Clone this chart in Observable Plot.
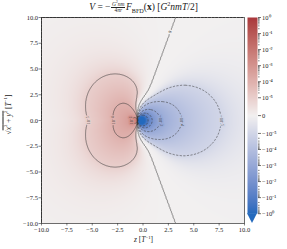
<!DOCTYPE html>
<html><head><meta charset="utf-8">
<script src="https://cdn.jsdelivr.net/npm/d3@7"></script>
<script src="https://cdn.jsdelivr.net/npm/@observablehq/plot@0.6"></script>
<style>
body{margin:0;background:#fff;}
#wrap{position:relative;width:287px;height:249px;overflow:hidden;font-family:"Liberation Serif",serif;color:#222;}
#wrap > div{position:absolute;}
#title{left:0;width:287px;top:2px;text-align:center;font-size:9.5px;white-space:nowrap;line-height:10px;}
.frac{display:inline-block;vertical-align:middle;text-align:center;font-size:5.5px;line-height:5px;margin:0 1px;}
.frac .n{display:block;border-bottom:0.5px solid #222;padding:0 0.5px;}
.frac .d{display:block;}
sup,sub{font-size:65%;line-height:0;}
#xlab{left:0;width:287px;top:235px;text-align:center;font-size:7.5px;}
#ylab{left:-42px;top:110px;width:100px;text-align:center;font-size:7.5px;transform:rotate(-90deg);transform-origin:50% 50%;}
.ol{text-decoration:overline;}
</style></head><body><div id="wrap"></div>
<script>
// ---------------- values ----------------
const xTicks = [-10, -7.5, -5, -2.5, 0, 2.5, 5, 7.5, 10];
const yTicks = [-10, -7.5, -5, -2.5, 0, 2.5, 5, 7.5, 10];
const contourNeg = [-1e-1, -1e-2, -1e-3, -1e-4, -1e-5];
const contourPos = [0, 1e-5, 1e-4, 1e-3];
const labelNeg = [-1e-3, -1e-4, -1e-5];
const labelNegText = ["−10⁻³", "−10⁻⁴", "−10⁻⁵"];
const labelPos = [1e-5, 1e-4, 1e-3];
const labelPosText = ["10⁻⁵", "10⁻⁴", "10⁻³"];
const cbTicks = [1, 1e-1, 1e-2, 1e-3, 1e-4, 1e-5, 0, -1e-5, -1e-4, -1e-3, -1e-2, -1e-1, -1];
const cbLabels = ["10⁰", "10⁻¹", "10⁻²", "10⁻³", "10⁻⁴", "10⁻⁵", "0", "−10⁻⁵", "−10⁻⁴", "−10⁻³", "−10⁻²", "−10⁻¹", "−10⁰"];
const linThresh = 1e-5;
// where contours cross the z axis (rho = 0)
const pinchZ = -0.55;
const blueAxisZ = [0.5, 0.9, 1.7, 3.8, 7.7];
const blueAxisLog = [-1, -2, -3, -4, -5];
const redAxisZ = [-1.1, -2.9, -5.4];
const redAxisLog = [-3, -4, -5];
// zero contour: far-field direction cosine and bend radius
const zeroCos = 0.35, zeroR0 = 2.2;
const redBlunt = 0.35, redBulge = 0.25, redR0 = 2.5;
const vlag = ["#2369bd", "#f2f0f0", "#a9373b"];

// ---------------- field model ----------------
function profile(D, L, u) {
  const lu = Math.log10(u);
  const ld = D.map(Math.log10);
  let i = 0;
  if (lu <= ld[0]) i = 0;
  else if (lu >= ld[ld.length - 1]) i = ld.length - 2;
  else { while (lu > ld[i + 1]) i++; }
  const s = (L[i + 1] - L[i]) / (ld[i + 1] - ld[i]);
  return Math.pow(10, L[i] + s * (lu - ld[i]));
}
const Db = blueAxisZ.map(z => z - pinchZ);
const Dr = redAxisZ.map(z => pinchZ - z);
function field(z, rho) {
  const dz = z - pinchZ, dr = Math.abs(rho);
  const r = Math.hypot(dz, dr);
  if (r < 1e-6) return -1;
  const c = dz / r;
  const c0 = zeroCos * (1 - Math.exp(-Math.pow(r / zeroR0, 3)));
  if (c > c0) {
    const p = (c - c0) / (1 - c0);
    return -Math.min(1, profile(Db, blueAxisLog, r / p));
  } else {
    const th = Math.acos(Math.max(-1, c)), th0 = Math.acos(c0);
    const t = (th - th0) / (Math.PI - th0);
    const w = 1 - Math.exp(-Math.pow(r / redR0, 2));
    const sn = Math.sin(Math.PI * t / 2);
    const q = (1 - w) * sn + w * Math.pow(sn, redBlunt) * (1 + redBulge * Math.sin(Math.PI * t));
    if (q <= 1e-9) return 0;
    return Math.min(1, profile(Dr, redAxisLog, r / q));
  }
}
const linW = 1 / (1 - 0.1);
function symT(v) {
  const a = Math.abs(v);
  const t = a <= linThresh ? a / linThresh * linW : linW + Math.log10(a / linThresh);
  return Math.sign(v) * t;
}
const T = symT(1);
const colorOpt = {type: "linear", domain: [-T, T], interpolate: d3.piecewise(d3.interpolateLab, vlag)};
const tf = (x, y) => symT(field(x, y));

function findZ(level, rho, a, b) {
  let fa = field(a, rho) - level;
  for (let k = 0; k < 60; k++) {
    const m = (a + b) / 2, fm = field(m, rho) - level;
    if ((fm > 0) === (fa > 0)) { a = m; fa = fm; } else b = m;
  }
  return (a + b) / 2;
}
const labels = [
  ...labelPos.map((v, i) => ({z: findZ(v, 0, -10, pinchZ - 1e-3), rho: 0, text: labelPosText[i], v: symT(v), rot: -90})),
  ...labelNeg.map((v, i) => ({z: findZ(v, 0, pinchZ + 1e-3, 10), rho: 0, text: labelNegText[i], v: symT(v), rot: 90})),
  {z: findZ(0, 8.6, pinchZ, 10), rho: 8.6, text: "0", v: 0, rot: -69}
];
const fmt = d => (d < 0 ? "−" : "") + Math.abs(d).toFixed(1);

const main = Plot.plot({
  width: 287, height: 249,
  marginLeft: 41, marginRight: 43, marginTop: 17, marginBottom: 26,
  style: {fontFamily: "Liberation Serif", fontSize: "6.5px", color: "#222", background: "transparent"},
  x: {domain: [-10, 10], label: null},
  y: {domain: [-10, 10], label: null},
  color: colorOpt,
  marks: [
    Plot.raster({fill: tf, x1: -10, x2: 10, y1: -10, y2: 10, pixelSize: 1}),
    Plot.contour({value: tf, x1: -10, x2: 10, y1: -10, y2: 10, pixelSize: 0.5, thresholds: contourNeg.map(symT), fill: "none", stroke: "#3a3a3a", strokeWidth: 0.6, strokeDasharray: "2.2,1.4", clip: true}),
    Plot.contour({value: tf, x1: -10, x2: 10, y1: -10, y2: 10, pixelSize: 0.5, thresholds: contourPos.map(symT), fill: "none", stroke: "#3a3a3a", strokeWidth: 0.6, clip: true}),
    Plot.text(labels, {x: "z", y: "rho", text: "text", rotate: "rot", fill: "#333", stroke: "v", strokeWidth: 2.5, fontSize: 4.5}),
    Plot.frame({stroke: "#333", strokeWidth: 0.7}),
    Plot.axisX({ticks: xTicks, tickFormat: fmt, tickSize: 2.5, tickPadding: 1, stroke: "#333", strokeWidth: 0.6, label: null}),
    Plot.axisY({ticks: yTicks, tickFormat: fmt, tickSize: 2.5, tickPadding: 1, stroke: "#333", strokeWidth: 0.6, label: null})
  ]
});

const ext = (9.8 / 196) * 2 * T;
const minor = [];
for (let k = -5; k <= -1; k++) for (let m = 2; m <= 9; m++) { minor.push(symT(m * 10 ** k)); minor.push(symT(-m * 10 ** k)); }
const cbPos = cbTicks.map(symT);
const cbMap = new Map(cbPos.map((p, i) => [p, cbLabels[i]]));
const cb = Plot.plot({
  width: 40, height: 249,
  marginLeft: 0, marginRight: 30, marginTop: 17, marginBottom: 26,
  style: {fontFamily: "Liberation Serif", fontSize: "6.5px", color: "#222", background: "transparent", overflow: "visible"},
  x: {domain: [0, 1], axis: null},
  y: {domain: [-T - ext, T], axis: null, label: null},
  color: colorOpt,
  marks: [
    Plot.raster({fill: (x, y) => y, x1: 0, x2: 1, y1: -T, y2: T, pixelSize: 1}),
    Plot.areaY([{x: 0, a: -T, b: -T}, {x: 0.5, a: -T - ext, b: -T}, {x: 1, a: -T, b: -T}], {x: "x", y1: "a", y2: "b", fill: -T}),
    Plot.axisY({anchor: "right", ticks: minor, tickSize: 1.6, text: null, stroke: "#111", strokeWidth: 0.5, label: null}),
    Plot.axisY({anchor: "right", ticks: cbPos, tickFormat: d => cbMap.get(d), tickSize: 3, tickPadding: 1.5, stroke: "#111", strokeWidth: 0.6, label: null})
  ]
});

const wrap = document.getElementById("wrap");
const d1 = document.createElement("div"); d1.style.left = "0px"; d1.style.top = "0px"; d1.appendChild(main); wrap.appendChild(d1);
const d2 = document.createElement("div"); d2.style.left = "247px"; d2.style.top = "0px"; d2.appendChild(cb); wrap.appendChild(d2);
wrap.insertAdjacentHTML("beforeend",
  `<div id="title"><i>V</i> = −<span class="frac"><span class="n"><i>G</i><sup>2</sup><i>nm</i></span><span class="d">4<i>πr</i></span></span><i>F</i><sub>BFD</sub>(<b>x</b>) [<i>G</i><sup>2</sup><i>nmT</i>/2]</div>
   <div id="xlab"><i>z</i> [<i>T</i><sup>−1</sup>]</div>
   <div id="ylab">√<span class="ol"><i>x</i><sup>2</sup> + <i>y</i><sup>2</sup></span> [<i>T</i><sup>−1</sup>]</div>`);
</script>
</body></html>
